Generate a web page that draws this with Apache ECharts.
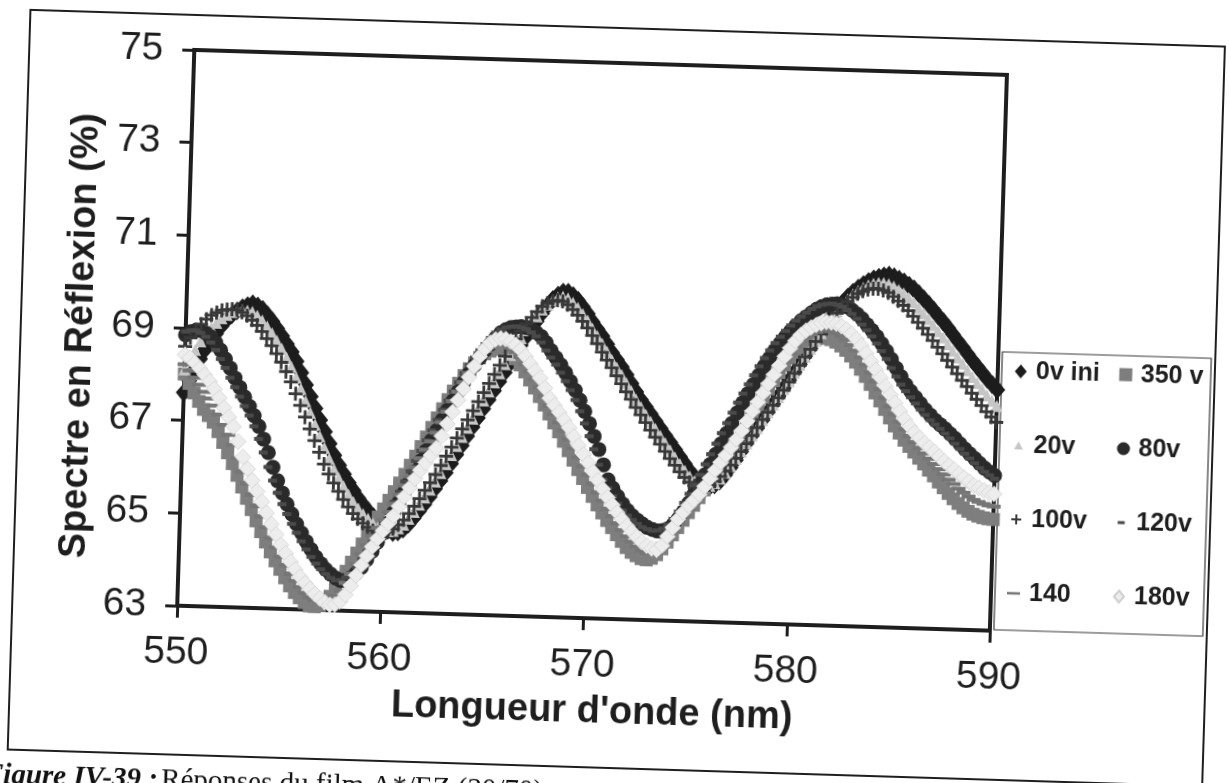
<!DOCTYPE html>
<html>
<head>
<meta charset="utf-8">
<script src="https://cdn.jsdelivr.net/npm/echarts@6/dist/echarts.min.js"></script>
<style>
html,body{margin:0;padding:0;width:1229px;height:783px;overflow:hidden;background:#fff;}
#chart{position:absolute;left:0;top:0;width:1229px;height:860px;transform:rotate(1.76deg);transform-origin:614.5px 391.5px;}
</style>
</head>
<body>
<div id="chart"></div>
<script>
// Wavelength sampling, 550–590 nm every 0.25 nm
const wavelength = [];
for (let i = 0; i <= 160; i++) wavelength.push(550 + i * 0.25);

const xTicks = [550, 560, 570, 580, 590];
const yTicks = [63, 65, 67, 69, 71, 73, 75];

// Reflection spectra (%), one value per wavelength sample
const v0ini = [
  67.60, 67.86, 68.10, 68.34, 68.55, 68.74, 68.90, 69.06,
  69.20, 69.31, 69.40, 69.47, 69.52, 69.56, 69.52, 69.45,
  69.33, 69.20, 69.05, 68.89, 68.72, 68.55, 68.35, 68.11,
  67.85, 67.60, 67.35, 67.10, 66.85, 66.60, 66.35, 66.14,
  65.95, 65.77, 65.60, 65.44, 65.30, 65.17, 65.05, 64.94,
  64.85, 64.77, 64.72, 64.74, 64.80, 64.91, 65.05, 65.20,
  65.35, 65.52, 65.70, 65.87, 66.05, 66.25, 66.45, 66.65,
  66.85, 67.05, 67.25, 67.45, 67.65, 67.85, 68.05, 68.25,
  68.45, 68.65, 68.85, 69.03, 69.20, 69.38, 69.55, 69.71,
  69.85, 69.95, 70.02, 70.02, 69.95, 69.85, 69.72, 69.57,
  69.40, 69.25, 69.10, 68.93, 68.75, 68.60, 68.45, 68.28,
  68.10, 67.92, 67.75, 67.60, 67.45, 67.30, 67.15, 67.00,
  66.85, 66.70, 66.55, 66.40, 66.25, 66.12, 66.02, 65.95,
  65.92, 65.96, 66.05, 66.19, 66.35, 66.52, 66.70, 66.88,
  67.05, 67.22, 67.40, 67.57, 67.75, 67.92, 68.10, 68.27,
  68.45, 68.62, 68.80, 68.97, 69.15, 69.33, 69.50, 69.67,
  69.82, 69.97, 70.10, 70.21, 70.30, 70.38, 70.45, 70.51,
  70.55, 70.58, 70.60, 70.57, 70.52, 70.47, 70.40, 70.32,
  70.22, 70.11, 70.00, 69.88, 69.75, 69.63, 69.50, 69.36,
  69.22, 69.09, 68.95, 68.81, 68.68, 68.55, 68.42, 68.31,
  68.20
];
const v350 = [
  68.00, 67.80, 67.60, 67.42, 67.25, 67.12, 66.98, 66.78,
  66.55, 66.33, 66.10, 65.85, 65.60, 65.36, 65.12, 64.88,
  64.65, 64.43, 64.22, 64.03, 63.85, 63.67, 63.50, 63.36,
  63.25, 63.15, 63.08, 63.07, 63.10, 63.18, 63.30, 63.46,
  63.65, 63.85, 64.05, 64.25, 64.45, 64.65, 64.85, 65.04,
  65.22, 65.41, 65.60, 65.79, 65.98, 66.18, 66.38, 66.59,
  66.80, 67.01, 67.22, 67.42, 67.62, 67.81, 67.98, 68.15,
  68.30, 68.43, 68.55, 68.64, 68.70, 68.74, 68.75, 68.71,
  68.65, 68.55, 68.42, 68.27, 68.10, 67.93, 67.75, 67.57,
  67.38, 67.19, 67.00, 66.80, 66.60, 66.40, 66.20, 66.01,
  65.82, 65.63, 65.45, 65.28, 65.12, 64.97, 64.82, 64.68,
  64.55, 64.45, 64.38, 64.32, 64.30, 64.34, 64.42, 64.55,
  64.70, 64.86, 65.02, 65.18, 65.35, 65.51, 65.68, 65.85,
  66.02, 66.20, 66.38, 66.56, 66.75, 66.93, 67.12, 67.31,
  67.50, 67.69, 67.88, 68.07, 68.25, 68.43, 68.60, 68.75,
  68.88, 68.99, 69.08, 69.14, 69.18, 69.20, 69.20, 69.17,
  69.12, 69.04, 68.95, 68.83, 68.70, 68.55, 68.40, 68.23,
  68.05, 67.88, 67.70, 67.52, 67.35, 67.20, 67.05, 66.92,
  66.80, 66.67, 66.55, 66.42, 66.30, 66.17, 66.05, 65.93,
  65.82, 65.72, 65.63, 65.56, 65.50, 65.46, 65.43, 65.41,
  65.40
];
const v20 = [
  68.10, 68.33, 68.53, 68.72, 68.88, 69.02, 69.13, 69.23,
  69.31, 69.37, 69.41, 69.42, 69.41, 69.39, 69.31, 69.21,
  69.08, 68.94, 68.78, 68.61, 68.42, 68.23, 68.00, 67.76,
  67.50, 67.25, 67.00, 66.75, 66.50, 66.27, 66.05, 65.86,
  65.68, 65.51, 65.35, 65.22, 65.10, 65.00, 64.90, 64.83,
  64.78, 64.75, 64.76, 64.82, 64.90, 65.03, 65.18, 65.34,
  65.50, 65.67, 65.85, 66.04, 66.23, 66.43, 66.63, 66.83,
  67.03, 67.23, 67.43, 67.63, 67.83, 68.03, 68.23, 68.43,
  68.63, 68.82, 69.00, 69.17, 69.33, 69.48, 69.63, 69.74,
  69.84, 69.90, 69.92, 69.89, 69.80, 69.69, 69.56, 69.42,
  69.25, 69.09, 68.93, 68.76, 68.59, 68.43, 68.27, 68.10,
  67.93, 67.75, 67.59, 67.43, 67.28, 67.13, 66.98, 66.83,
  66.68, 66.53, 66.39, 66.25, 66.13, 66.03, 65.95, 65.92,
  65.94, 66.00, 66.10, 66.23, 66.38, 66.54, 66.70, 66.88,
  67.05, 67.22, 67.40, 67.57, 67.74, 67.90, 68.08, 68.25,
  68.44, 68.61, 68.79, 68.96, 69.14, 69.31, 69.48, 69.64,
  69.79, 69.93, 70.05, 70.16, 70.24, 70.31, 70.37, 70.41,
  70.43, 70.43, 70.41, 70.36, 70.29, 70.22, 70.13, 70.03,
  69.91, 69.80, 69.68, 69.55, 69.42, 69.29, 69.15, 69.01,
  68.87, 68.74, 68.60, 68.46, 68.33, 68.20, 68.07, 67.96,
  67.85
];
const v80 = [
  68.85, 68.92, 68.95, 68.95, 68.90, 68.82, 68.70, 68.54,
  68.35, 68.16, 67.95, 67.75, 67.55, 67.35, 67.15, 66.92,
  66.65, 66.36, 66.05, 65.76, 65.50, 65.26, 65.05, 64.84,
  64.65, 64.47, 64.30, 64.14, 64.00, 63.88, 63.78, 63.70,
  63.65, 63.66, 63.72, 63.82, 63.95, 64.12, 64.30, 64.50,
  64.70, 64.92, 65.15, 65.38, 65.60, 65.83, 66.05, 66.28,
  66.50, 66.73, 66.95, 67.18, 67.40, 67.60, 67.80, 68.00,
  68.20, 68.38, 68.55, 68.71, 68.85, 68.98, 69.10, 69.17,
  69.22, 69.24, 69.25, 69.23, 69.20, 69.13, 69.05, 68.92,
  68.75, 68.60, 68.45, 68.28, 68.10, 67.91, 67.70, 67.46,
  67.20, 66.93, 66.65, 66.32, 66.00, 65.82, 65.65, 65.49,
  65.35, 65.24, 65.15, 65.07, 65.00, 64.96, 64.93, 64.94,
  64.98, 65.07, 65.20, 65.36, 65.55, 65.75, 65.95, 66.17,
  66.40, 66.62, 66.85, 67.08, 67.30, 67.53, 67.75, 67.95,
  68.15, 68.35, 68.55, 68.73, 68.90, 69.06, 69.20, 69.33,
  69.45, 69.56, 69.65, 69.74, 69.82, 69.88, 69.92, 69.94,
  69.95, 69.93, 69.89, 69.82, 69.74, 69.64, 69.52, 69.40,
  69.27, 69.12, 68.96, 68.79, 68.60, 68.42, 68.25, 68.11,
  67.98, 67.85, 67.72, 67.61, 67.50, 67.41, 67.32, 67.22,
  67.12, 67.01, 66.90, 66.80, 66.70, 66.60, 66.50, 66.42,
  66.35
];
const v100 = [
  68.60, 68.79, 68.95, 69.09, 69.20, 69.29, 69.35, 69.40,
  69.42, 69.43, 69.42, 69.37, 69.30, 69.21, 69.10, 68.97,
  68.82, 68.67, 68.50, 68.32, 68.12, 67.90, 67.65, 67.40,
  67.15, 66.90, 66.65, 66.40, 66.15, 65.94, 65.75, 65.57,
  65.40, 65.24, 65.10, 64.99, 64.90, 64.82, 64.75, 64.71,
  64.70, 64.73, 64.80, 64.89, 65.00, 65.14, 65.30, 65.47,
  65.65, 65.82, 66.00, 66.20, 66.40, 66.60, 66.80, 67.00,
  67.20, 67.40, 67.60, 67.80, 68.00, 68.20, 68.40, 68.60,
  68.80, 68.98, 69.15, 69.31, 69.45, 69.58, 69.70, 69.77,
  69.82, 69.84, 69.82, 69.75, 69.65, 69.53, 69.40, 69.26,
  69.10, 68.93, 68.75, 68.58, 68.42, 68.25, 68.08, 67.91,
  67.75, 67.58, 67.42, 67.26, 67.10, 66.95, 66.80, 66.65,
  66.50, 66.36, 66.22, 66.10, 66.00, 65.93, 65.88, 65.89,
  65.95, 66.04, 66.15, 66.27, 66.40, 66.55, 66.70, 66.87,
  67.05, 67.22, 67.40, 67.56, 67.72, 67.88, 68.05, 68.23,
  68.42, 68.60, 68.78, 68.95, 69.12, 69.29, 69.45, 69.60,
  69.75, 69.88, 70.00, 70.10, 70.18, 70.24, 70.28, 70.30,
  70.30, 70.27, 70.22, 70.14, 70.05, 69.96, 69.85, 69.73,
  69.60, 69.48, 69.35, 69.22, 69.08, 68.94, 68.80, 68.66,
  68.52, 68.38, 68.25, 68.11, 67.98, 67.85, 67.72, 67.61,
  67.50
];
const v120 = [
  68.92, 68.95, 68.95, 68.90, 68.82, 68.70, 68.54, 68.35,
  68.16, 67.95, 67.75, 67.55, 67.35, 67.15, 66.92, 66.65,
  66.36, 66.05, 65.76, 65.50, 65.26, 65.05, 64.84, 64.65,
  64.47, 64.30, 64.14, 64.00, 63.88, 63.78, 63.70, 63.65,
  63.66, 63.72, 63.82, 63.95, 64.12, 64.30, 64.50, 64.70,
  64.92, 65.15, 65.38, 65.60, 65.83, 66.05, 66.28, 66.50,
  66.73, 66.95, 67.18, 67.40, 67.60, 67.80, 68.00, 68.20,
  68.38, 68.55, 68.71, 68.85, 68.98, 69.10, 69.17, 69.22,
  69.24, 69.25, 69.23, 69.20, 69.13, 69.05, 68.92, 68.75,
  68.60, 68.45, 68.28, 68.10, 67.91, 67.70, 67.46, 67.20,
  66.93, 66.65, 66.32, 66.00, 65.82, 65.65, 65.49, 65.35,
  65.24, 65.15, 65.07, 65.00, 64.96, 64.93, 64.94, 64.98,
  65.07, 65.20, 65.36, 65.55, 65.75, 65.95, 66.17, 66.40,
  66.62, 66.85, 67.08, 67.30, 67.53, 67.75, 67.95, 68.15,
  68.35, 68.55, 68.73, 68.90, 69.06, 69.20, 69.33, 69.45,
  69.56, 69.65, 69.74, 69.82, 69.88, 69.92, 69.94, 69.95,
  69.93, 69.89, 69.82, 69.74, 69.64, 69.52, 69.40, 69.27,
  69.12, 68.96, 68.79, 68.60, 68.42, 68.25, 68.11, 67.98,
  67.85, 67.72, 67.61, 67.50, 67.41, 67.32, 67.22, 67.12,
  67.01, 66.90, 66.80, 66.70, 66.60, 66.50, 66.42, 66.35,
  66.28
];
const v140 = [
  68.21, 68.08, 67.93, 67.78, 67.63, 67.49, 67.34, 67.15,
  66.93, 66.72, 66.50, 66.22, 65.93, 65.68, 65.44, 65.20,
  64.98, 64.75, 64.52, 64.32, 64.12, 63.94, 63.76, 63.61,
  63.48, 63.36, 63.27, 63.21, 63.18, 63.18, 63.21, 63.30,
  63.43, 63.60, 63.80, 64.01, 64.23, 64.43, 64.63, 64.81,
  64.99, 65.16, 65.34, 65.54, 65.74, 65.94, 66.14, 66.34,
  66.53, 66.71, 66.90, 67.13, 67.36, 67.59, 67.80, 68.01,
  68.21, 68.40, 68.57, 68.70, 68.79, 68.85, 68.87, 68.84,
  68.79, 68.70, 68.59, 68.44, 68.28, 68.12, 67.95, 67.76,
  67.55, 67.38, 67.21, 67.03, 66.85, 66.66, 66.46, 66.27,
  66.09, 65.90, 65.72, 65.54, 65.37, 65.22, 65.06, 64.92,
  64.79, 64.68, 64.58, 64.50, 64.45, 64.45, 64.47, 64.59,
  64.76, 64.94, 65.11, 65.27, 65.43, 65.57, 65.72, 65.89,
  66.06, 66.24, 66.42, 66.59, 66.77, 66.95, 67.14, 67.34,
  67.54, 67.74, 67.93, 68.13, 68.32, 68.51, 68.69, 68.86,
  69.00, 69.12, 69.22, 69.28, 69.33, 69.36, 69.38, 69.36,
  69.32, 69.26, 69.18, 69.07, 68.95, 68.81, 68.65, 68.48,
  68.30, 68.13, 67.95, 67.77, 67.60, 67.44, 67.28, 67.14,
  67.01, 66.89, 66.78, 66.67, 66.56, 66.45, 66.34, 66.23,
  66.14, 66.04, 65.96, 65.88, 65.81, 65.77, 65.73, 65.70,
  65.68
];
const v180 = [
  68.42, 68.35, 68.25, 68.13, 68.00, 67.86, 67.70, 67.51,
  67.30, 67.10, 66.90, 66.58, 66.25, 66.00, 65.75, 65.52,
  65.30, 65.06, 64.82, 64.60, 64.38, 64.20, 64.02, 63.86,
  63.70, 63.57, 63.45, 63.34, 63.25, 63.17, 63.12, 63.13,
  63.20, 63.35, 63.55, 63.77, 64.00, 64.20, 64.40, 64.58,
  64.75, 64.91, 65.08, 65.29, 65.50, 65.70, 65.90, 66.08,
  66.25, 66.41, 66.57, 66.83, 67.10, 67.36, 67.62, 67.87,
  68.12, 68.36, 68.58, 68.75, 68.88, 68.95, 68.98, 68.97,
  68.92, 68.85, 68.75, 68.61, 68.45, 68.30, 68.15, 67.94,
  67.72, 67.57, 67.42, 67.26, 67.10, 66.91, 66.72, 66.53,
  66.35, 66.16, 65.98, 65.80, 65.62, 65.46, 65.30, 65.16,
  65.02, 64.90, 64.78, 64.68, 64.60, 64.55, 64.52, 64.62,
  64.82, 65.01, 65.20, 65.35, 65.50, 65.62, 65.75, 65.92,
  66.10, 66.28, 66.45, 66.61, 66.78, 66.96, 67.15, 67.36,
  67.58, 67.78, 67.98, 68.18, 68.38, 68.58, 68.78, 68.96,
  69.12, 69.25, 69.35, 69.42, 69.48, 69.52, 69.55, 69.54,
  69.52, 69.47, 69.40, 69.31, 69.20, 69.06, 68.90, 68.73,
  68.55, 68.38, 68.20, 68.02, 67.85, 67.67, 67.50, 67.35,
  67.22, 67.11, 67.00, 66.91, 66.82, 66.72, 66.62, 66.53,
  66.45, 66.36, 66.28, 66.20, 66.12, 66.07, 66.02, 65.98,
  65.95
];

// Legend icons drawn inside a 20x20 box (the two corner points fix the box)
const BOX = 'M0,0L0.01,0ZM20,20L19.99,20Z';
const ICON = {
  diamond: 'path://' + BOX + 'M10,3L16,10L10,17L4,10Z',
  square: 'path://' + BOX + 'M3.5,3.5H16.5V16.5H3.5Z',
  triangle: 'path://' + BOX + 'M10,6L14.5,14H5.5Z',
  circle: 'path://' + BOX + 'M3.5,10A6.5,6.5,0,1,0,16.5,10A6.5,6.5,0,1,0,3.5,10Z',
  plus: 'path://' + BOX + 'M9,5H11V9H15V11H11V15H9V11H5V9H9Z',
  dash: 'path://' + BOX + 'M6.5,8.5H13.5V11.5H6.5Z',
  longDash: 'path://' + BOX + 'M3,8.75H16V11.25H3Z',
  light: 'path://' + BOX + 'M10,4L15,10L10,16L5,10Z'
};
const PLUS = 'path://M4,0H6V4H10V6H6V10H4V6H0V4H4Z';

// Drawing order: later series sit on top
const seriesDefs = [
  { name: '0v ini', values: v0ini, symbol: 'diamond', size: [16, 19], color: '#1c1c1c', icon: ICON.diamond },
  { name: '350 v', values: v350, symbol: 'rect', size: 13, color: '#7e7e7e', icon: ICON.square },
  { name: '20v', values: v20, symbol: 'triangle', size: 12, color: '#c6c6c6', icon: ICON.triangle },
  { name: '80v', values: v80, symbol: 'circle', size: 15, color: '#2a2a2a', icon: ICON.circle },
  { name: '100v', values: v100, symbol: PLUS, size: 14, color: '#383838', icon: ICON.plus },
  { name: '120v', values: v120, symbol: 'rect', size: [9, 4], color: '#4a4a4a', icon: ICON.dash },
  { name: '140', values: v140, symbol: 'rect', size: [14, 4], color: '#767676', icon: ICON.longDash },
  { name: '180v', values: v180, symbol: 'diamond', size: 16, color: '#ededed', icon: ICON.light, border: '#cfcfcf' }
];

const FONT = '"Liberation Sans", Arial, sans-serif';
const INK = '#1e1e1e';

const legendText = { fontSize: 25, fontWeight: 'bold', fontFamily: FONT, color: INK, lineHeight: 30 };
const legendIcon = name => {
  const d = seriesDefs.find(s => s.name === name);
  return { name: d.name, icon: d.icon };
};
const legendBase = {
  orient: 'vertical', top: 344, padding: 0, itemGap: 44,
  itemWidth: 20, itemHeight: 20, selectedMode: false, textStyle: legendText
};

const chart = echarts.init(document.getElementById('chart'), null, { renderer: 'canvas' });
chart.setOption({
  animation: false,
  backgroundColor: '#ffffff',
  grid: {
    left: 184, top: 63, width: 813, height: 556,
    show: true, borderColor: INK, borderWidth: 4, backgroundColor: '#ffffff',
    containLabel: false, outerBoundsMode: 'none'
  },
  xAxis: {
    type: 'value', min: xTicks[0], max: xTicks[xTicks.length - 1], interval: 10,
    name: 'Longueur d\'onde (nm)', nameLocation: 'middle', nameGap: 75,
    nameTextStyle: { fontSize: 38, fontWeight: 'bold', fontFamily: FONT, color: INK, padding: [0, 0, 0, 22] },
    axisLine: { show: true, lineStyle: { color: INK, width: 4 } },
    axisTick: { show: true, inside: false, length: 12, lineStyle: { color: INK, width: 3 } },
    axisLabel: { fontSize: 39, fontFamily: FONT, color: INK, margin: 28 },
    splitLine: { show: false }
  },
  yAxis: {
    type: 'value', min: yTicks[0], max: yTicks[yTicks.length - 1], interval: 2,
    name: 'Spectre en Réflexion (%)', nameLocation: 'middle', nameGap: 84, nameRotate: 90,
    nameTextStyle: { fontSize: 38, fontWeight: 'bold', fontFamily: FONT, color: INK, padding: [0, 22, 0, 0] },
    axisLine: { show: true, lineStyle: { color: INK, width: 4 } },
    axisTick: { show: true, inside: false, length: 12, lineStyle: { color: INK, width: 3 } },
    axisLabel: { fontSize: 39, fontFamily: FONT, color: INK, margin: 31 },
    splitLine: { show: false }
  },
  legend: [
    Object.assign({}, legendBase, { left: 1010, data: ['0v ini', '20v', '100v', '140'].map(legendIcon) }),
    Object.assign({}, legendBase, { left: 1114, data: ['350 v', '80v', '120v', '180v'].map(legendIcon) })
  ],
  graphic: [
    { type: 'rect', silent: true, shape: { x: 19, y: 28, width: 1195, height: 740 },
      style: { fill: 'none', stroke: INK, lineWidth: 2 } },
    { type: 'rect', silent: true, shape: { x: 1001, y: 340, width: 209, height: 278 },
      style: { fill: 'none', stroke: '#3a3a3a', lineWidth: 1.2 } },
    { type: 'text', silent: true, x: -4, y: 780,
      style: {
        text: '{a|Figure IV-39 :} {b|Réponses du film A*/EZ (30/70)}',
        verticalAlign: 'top',
        rich: {
          a: { fontSize: 29, fontStyle: 'italic', fontWeight: 'bold', fontFamily: 'Liberation Serif', fill: '#111' },
          b: { fontSize: 29, fontFamily: 'Liberation Serif', fill: '#111' }
        }
      } }
  ],
  series: seriesDefs.map(d => ({
    type: 'scatter',
    name: d.name,
    data: wavelength.map((w, i) => [w, d.values[i]]),
    symbol: d.symbol,
    symbolSize: d.size,
    silent: true,
    itemStyle: d.border
      ? { color: d.color, borderColor: d.border, borderWidth: 0.7, opacity: 1 }
      : { color: d.color, opacity: 1 },
    emphasis: { disabled: true }
  }))
});
</script>
</body>
</html>
